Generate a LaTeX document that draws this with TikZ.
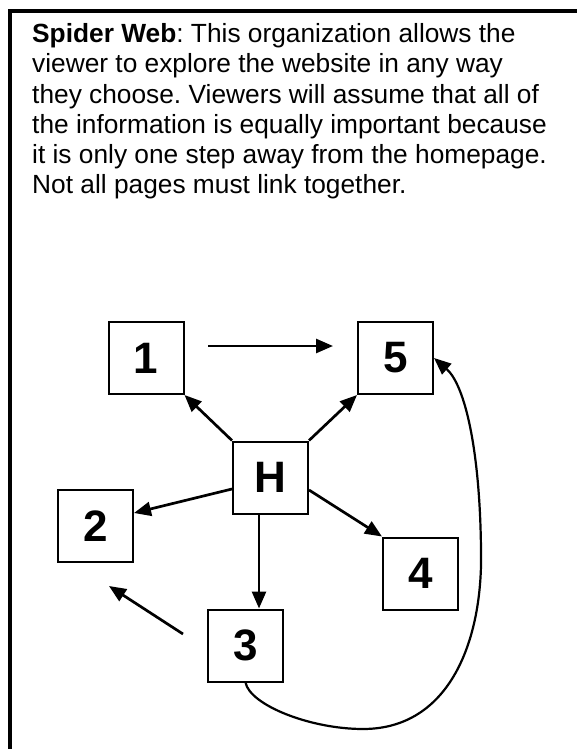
\documentclass[tikz,border=0pt]{standalone}
\usepackage{fontspec}
\setmainfont{Liberation Sans}
\usepackage{tikz}
\usetikzlibrary{arrows.meta}
\frenchspacing

\begin{document}
\begin{tikzpicture}[x=1pt, y=-1pt,
  page/.style={minimum width=75pt, minimum height=72pt, draw, line width=2pt, inner sep=0pt, font=\fontsize{44}{44}\selectfont\bfseries},
  link/.style={line width=2.7pt, -{Triangle[length=17pt,width=14pt]}}]
\useasboundingbox (0,0) rectangle (577,749);
\draw[line width=4pt, line join=miter] (590,11) -- (10,11) -- (10,760);

\node[anchor=base west, inner sep=0pt, align=left, font=\fontsize{26.3}{30}\selectfont] (txt) at (32,193)
  {\textbf{Spider Web}: This organization allows the\\
   viewer to explore the website in any way\\
   they choose. Viewers will assume that all of\\
   the information is equally important because\\
   it is only one step away from the homepage.\\
   Not all pages must link together.};

\node[page] (p1) at (146,358) {1};
\node[page] (p5) at (395.5,358) {5};
\node[page] (h) at (270.5,477.5) {H};
\node[page] (p2) at (95.5,526) {2};
\node[page] (p4) at (420.5,573.5) {4};
\node[page] (p3) at (245.5,645.5) {3};

\coordinate (a1) at (208,346);
\coordinate (a5) at (333,346);
\coordinate (b3) at (183,634);
\coordinate (b2) at (109,586);

\draw[link] (a1) -- (a5);
\draw[link] (h.north west) -- (p1.south east);
\draw[link] (h.north east) -- (p5.south west);
\draw[link] ([yshift=-11.5pt]h.west) -- ([yshift=13pt]p2.east);
\draw[link] ([yshift=-12.5pt]h.east) -- (p4.north west);
\draw[link] ([xshift=-11.5pt]h.south) -- ([xshift=-11.5pt]h.south |- p3.north);
\draw[link] (b3) -- (b2);
\draw[line width=2.2pt, -{Triangle[length=17pt,width=14pt]}] (p3.south)
  .. controls (250,705) and (310,729) .. (363,729)
  .. controls (450,729) and (483,640) .. (481,550)
  .. controls (480,450) and (465,385) .. (p5.east);
\end{tikzpicture}
\end{document}
